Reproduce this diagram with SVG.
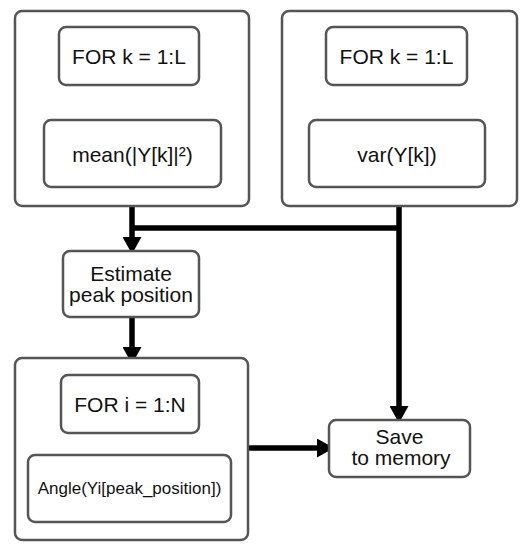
<svg xmlns="http://www.w3.org/2000/svg" width="530" height="550" viewBox="0 0 530 550">
<defs>
<style>
.box{fill:#fff;stroke:#555;stroke-width:2.5}
.t{font-family:"Liberation Sans",Arial,sans-serif;font-size:21px;fill:#111;text-anchor:middle}
.s{font-size:17px}
.c{fill:none;stroke:#000;stroke-width:5.5}
</style>
<marker id="ah" markerUnits="userSpaceOnUse" markerWidth="17" markerHeight="19" refX="2" refY="9.5" orient="auto">
<path d="M0,0 L17,9.5 L0,19 z" fill="#000"/>
</marker>
</defs>
<rect width="530" height="550" fill="#fff"/>
<g id="connectors">
<path class="c" d="M132,206 V239" marker-end="url(#ah)"/>
<path class="c" d="M132,228 H399"/>
<path class="c" d="M399,206 V408" marker-end="url(#ah)"/>
<path class="c" d="M132,317 V349" marker-end="url(#ah)"/>
<path class="c" d="M248,448 H319" marker-end="url(#ah)"/>
</g>
<g id="loop-mean">
<rect class="box" x="15" y="11" width="234" height="195" rx="7"/>
</g>
<g id="for-k-left">
<rect class="box" x="59" y="27" width="140" height="58" rx="7"/>
<text class="t" x="129" y="64">FOR k = 1:L</text>
</g>
<g id="mean">
<rect class="box" x="44" y="120" width="177" height="67" rx="7"/>
<text class="t" x="132.5" y="162">mean(|Y[k]|²)</text>
</g>
<g id="loop-var">
<rect class="box" x="282" y="11" width="235" height="195" rx="7"/>
</g>
<g id="for-k-right">
<rect class="box" x="326" y="27" width="141" height="58" rx="7"/>
<text class="t" x="396.5" y="64">FOR k = 1:L</text>
</g>
<g id="var">
<rect class="box" x="309" y="120" width="176" height="67" rx="7"/>
<text class="t" x="397" y="162">var(Y[k])</text>
</g>
<g id="estimate">
<rect class="box" x="63" y="251" width="136" height="66" rx="7"/>
<text class="t" x="131" y="281">Estimate</text>
<text class="t" x="131" y="302">peak position</text>
</g>
<g id="loop-angle">
<rect class="box" x="15" y="358" width="233" height="182" rx="7"/>
</g>
<g id="for-i">
<rect class="box" x="61" y="375" width="138" height="58" rx="7"/>
<text class="t" x="130" y="412">FOR i = 1:N</text>
</g>
<g id="angle">
<rect class="box" x="28" y="455" width="203" height="67" rx="7"/>
<text class="t s" x="129.5" y="494">Angle(Yi[peak_position])</text>
</g>
<g id="save">
<rect class="box" x="329" y="420" width="141" height="57" rx="7"/>
<text class="t" x="399.5" y="444">Save</text>
<text class="t" x="401" y="465">to memory</text>
</g>
</svg>
